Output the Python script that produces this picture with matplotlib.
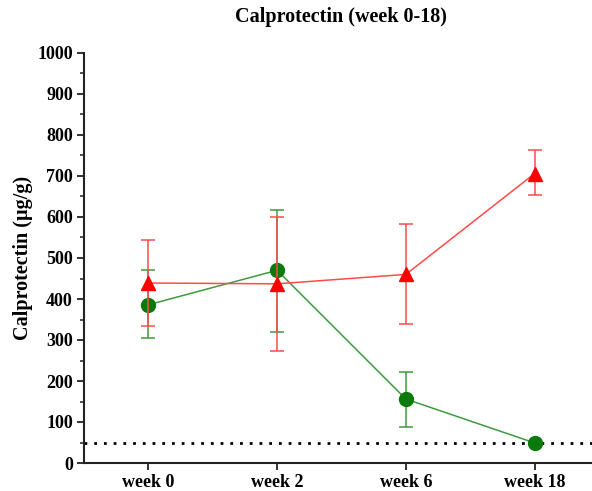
import matplotlib
matplotlib.use('Agg')
from matplotlib import pyplot as plt
from matplotlib.ticker import MultipleLocator

# data
weeks = ['week 0', 'week 2', 'week 6', 'week 18']
green_mean = [386, 470, 156, 49]
green_low = [304, 319, 88, 49]
green_high = [470, 618, 223, 49]
red_mean = [439, 437, 460, 706]
red_low = [333, 274, 340, 653]
red_high = [543, 600, 584, 763]
limit = 50

plt.rcParams['font.family'] = ['Liberation Serif', 'DejaVu Serif']
plt.rcParams['font.weight'] = 'bold'

fig = plt.figure(figsize=(5.92, 4.91), dpi=100)
ax = fig.add_axes([84 / 592, (491 - 463) / 491, 515 / 592, 410 / 491])

x = list(range(len(weeks)))
g_err = [[m - l for m, l in zip(green_mean, green_low)],
         [h - m for m, h in zip(green_mean, green_high)]]
r_err = [[m - l for m, l in zip(red_mean, red_low)],
         [h - m for m, h in zip(red_mean, red_high)]]

ax.axhline(limit, color='black', linestyle=(0, (1, 2.5)), linewidth=2, zorder=1)

ax.errorbar(x, green_mean, yerr=g_err, color='#3f9a3f', linewidth=1.1,
            marker='o', markersize=10, markerfacecolor='#0b7a0b',
            markeredgecolor='#0b7a0b', capsize=5, elinewidth=1.1,
            capthick=1.1, ecolor='#3f9a3f', zorder=2)
ax.errorbar(x, red_mean, yerr=r_err, color='#ff4a4a', linewidth=1.1,
            marker='^', markersize=10, markerfacecolor='#ff0000',
            markeredgecolor='#ff0000', capsize=5, elinewidth=1.1,
            capthick=1.1, ecolor='#ff4a4a', zorder=3)

ax.set_xlim(-0.5, 3.5)
ax.set_ylim(0, 1000)
ax.set_xticks(x)
ax.set_xticklabels(weeks)
ax.yaxis.set_major_locator(MultipleLocator(100))
ax.yaxis.set_minor_locator(MultipleLocator(50))

for s in ['top', 'right']:
    ax.spines[s].set_visible(False)
for s in ['left', 'bottom']:
    ax.spines[s].set_linewidth(1.5)
    ax.spines[s].set_color('#222222')

ax.tick_params(axis='both', which='major', length=5, width=1.3,
               color='#222222', labelsize=13, pad=3)
ax.tick_params(axis='y', which='minor', length=3, width=1.1, color='#222222')
ax.tick_params(axis='x', pad=3)

ax.set_ylabel('Calprotectin (µg/g)', fontsize=14.5, fontweight='bold', labelpad=3)
fig.text(341 / 592, 1 - 17 / 491, 'Calprotectin (week 0-18)', ha='center',
         va='center', fontsize=14.5, fontweight='bold')

plt.savefig('out.png', dpi=100)
